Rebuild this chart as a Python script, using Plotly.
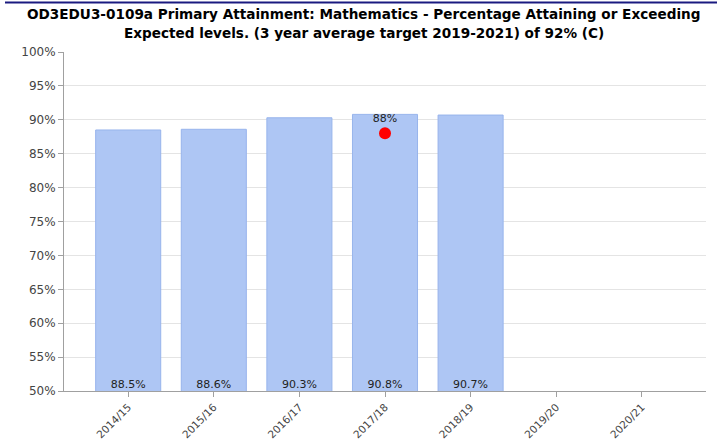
import plotly.graph_objects as go

categories = ["2014/15", "2015/16", "2016/17", "2017/18", "2018/19", "2019/20", "2020/21"]
actual = [88.5, 88.6, 90.3, 90.8, 90.7, None, None]
actual_labels = ["88.5%", "88.6%", "90.3%", "90.8%", "90.7%", "", ""]
label_base = [50, 50, 50, 50, 50, None, None]
target_cats = ["2017/18"]
target_vals = [88]
target_labels = ["88%"]

title_lines = ["OD3EDU3-0109a Primary Attainment: Mathematics - Percentage Attaining or Exceeding",
               "Expected levels. (3 year average target 2019-2021) of 92% (C)"]

fig = go.Figure()
fig.add_trace(go.Bar(
    x=categories, y=actual,
    marker=dict(color="#aec6f4", line=dict(color="#98b4ec", width=1)),
    showlegend=False, hoverinfo="x+y",
))
fig.add_trace(go.Scatter(
    x=categories, y=label_base, mode="text", text=actual_labels,
    textposition="top center", cliponaxis=False,
    textfont=dict(family="DejaVu Sans", size=11, color="#222222"),
    showlegend=False, hoverinfo="skip",
))
fig.add_trace(go.Scatter(
    x=target_cats, y=target_vals, mode="markers+text", text=target_labels,
    textposition="top center",
    textfont=dict(family="DejaVu Sans", size=11, color="#222222"),
    marker=dict(color="#ff0000", size=12), showlegend=False,
))

W, H = 717, 445
l, r, t, b = 64, 11, 52, 54
pw, ph = W - l - r, H - t - b

fig.update_layout(
    width=W, height=H,
    margin=dict(l=l, r=r, t=t, b=b, autoexpand=False),
    paper_bgcolor="white", plot_bgcolor="white",
    bargap=0.24,
    xaxis=dict(type="category", categoryorder="array", categoryarray=categories,
               range=[-0.75, 6.75], showgrid=False, automargin=False,
               showline=True, linecolor="#a0a0a0", linewidth=1,
               ticks="outside", ticklen=5, tickcolor="#a0a0a0",
               tickangle=-45, tickfont=dict(family="DejaVu Sans", size=10.5, color="#444444")),
    yaxis=dict(range=[50, 100], dtick=5, ticksuffix="%", automargin=False,
               showgrid=True, gridcolor="#e4e4e4", gridwidth=1,
               showline=True, linecolor="#a0a0a0", linewidth=1,
               ticks="outside", ticklen=5, tickcolor="#a0a0a0",
               tickfont=dict(family="DejaVu Sans", size=12, color="#444444"),
               zeroline=False),
)
for i, (line, ypx) in enumerate(zip(title_lines, [14, 33])):
    fig.add_annotation(text=line, xref="paper", yref="paper",
                       x=(W / 2 + 5 - l) / pw, y=1 + (t - ypx) / ph,
                       xanchor="center", yanchor="middle", showarrow=False,
                       font=dict(family="DejaVu Sans", size=13.6, color="#000000", weight="bold"))
fig.add_shape(type="line", xref="paper", yref="paper",
              x0=-59 / pw, x1=1 + r / pw, y0=1 + (t - 2.5) / ph, y1=1 + (t - 2.5) / ph,
              line=dict(color="#1a1a80", width=2))

fig.write_html("out.html", config={"displayModeBar": False},
               post_script="document.body.style.margin='0';")
